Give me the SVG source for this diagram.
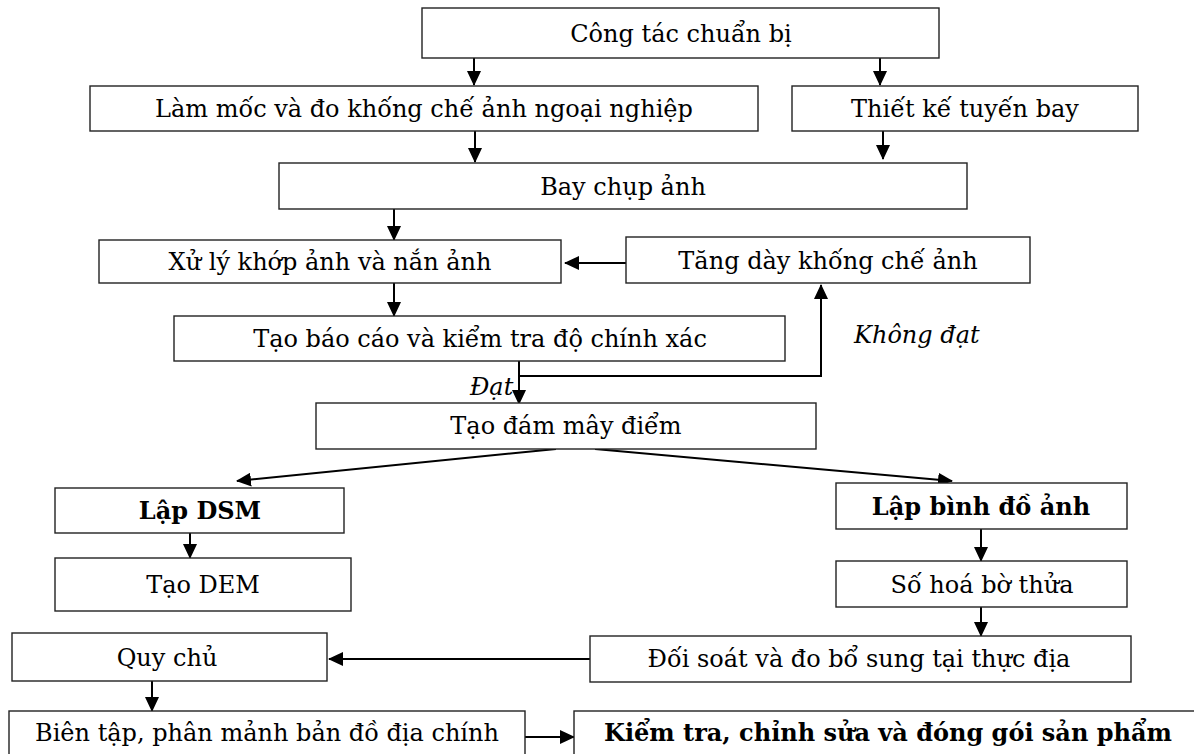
<svg xmlns="http://www.w3.org/2000/svg" width="1194" height="754" viewBox="0 0 1194 754">
<style>
.box{fill:#fff;stroke:#222;stroke-width:1.4}
.t{font-family:"DejaVu Serif","Liberation Serif",serif;font-size:24px;fill:#000;text-anchor:middle}
.b{font-weight:bold}
.i{font-style:italic;text-anchor:start}
.c{fill:none;stroke:#000;stroke-width:2}
</style>
<defs>
<marker id="ah" markerUnits="userSpaceOnUse" markerWidth="15" markerHeight="14" refX="14" refY="7" orient="auto">
<path d="M0,0 L15,7 L0,14 z" fill="#000"/>
</marker>
</defs>
<rect width="1194" height="754" fill="#fff"/>
<g id="connectors">
<line class="c" x1="474" y1="58" x2="474" y2="85" marker-end="url(#ah)"/>
<line class="c" x1="880" y1="58" x2="880" y2="85" marker-end="url(#ah)"/>
<line class="c" x1="475" y1="131" x2="475" y2="162" marker-end="url(#ah)"/>
<line class="c" x1="883" y1="131" x2="883" y2="159" marker-end="url(#ah)"/>
<line class="c" x1="394" y1="209" x2="394" y2="240" marker-end="url(#ah)"/>
<line class="c" x1="626" y1="263" x2="565" y2="263" marker-end="url(#ah)"/>
<line class="c" x1="394" y1="283" x2="394" y2="316" marker-end="url(#ah)"/>
<line class="c" x1="519" y1="361" x2="519" y2="404" marker-end="url(#ah)"/>
<polyline class="c" points="519,376 821,376 821,285" marker-end="url(#ah)"/>
<line class="c" x1="556" y1="449" x2="237" y2="481" marker-end="url(#ah)"/>
<line class="c" x1="595" y1="449" x2="952" y2="481" marker-end="url(#ah)"/>
<line class="c" x1="190" y1="533" x2="190" y2="558" marker-end="url(#ah)"/>
<line class="c" x1="981" y1="529" x2="981" y2="561" marker-end="url(#ah)"/>
<line class="c" x1="981" y1="607" x2="981" y2="636" marker-end="url(#ah)"/>
<line class="c" x1="590" y1="659" x2="329" y2="659" marker-end="url(#ah)"/>
<line class="c" x1="152" y1="681" x2="152" y2="711" marker-end="url(#ah)"/>
<line class="c" x1="525" y1="737" x2="574" y2="737" marker-end="url(#ah)"/>
</g>
<g id="cong-tac"><rect class="box" x="422" y="8" width="517" height="50"/><text class="t" x="681" y="42">Công tác chuẩn bị</text></g>
<g id="lam-moc"><rect class="box" x="90" y="86" width="668" height="45"/><text class="t" x="424" y="117">Làm mốc và đo khống chế ảnh ngoại nghiệp</text></g>
<g id="thiet-ke"><rect class="box" x="792" y="86" width="346" height="45"/><text class="t" x="965" y="117">Thiết kế tuyến bay</text></g>
<g id="bay-chup"><rect class="box" x="279" y="163" width="688" height="46"/><text class="t" x="623" y="195">Bay chụp ảnh</text></g>
<g id="xu-ly"><rect class="box" x="99" y="240" width="462" height="43"/><text class="t" x="330" y="270">Xử lý khớp ảnh và nắn ảnh</text></g>
<g id="tang-day"><rect class="box" x="626" y="237" width="404" height="46"/><text class="t" x="828" y="269">Tăng dày khống chế ảnh</text></g>
<g id="tao-bao-cao"><rect class="box" x="174" y="316" width="611" height="45"/><text class="t" x="480" y="347">Tạo báo cáo và kiểm tra độ chính xác</text></g>
<g id="label-khong-dat"><text class="t i" x="854" y="343">Không đạt</text></g>
<g id="label-dat"><text class="t i" x="470" y="395">Đạt</text></g>
<g id="tao-dam-may"><rect class="box" x="316" y="403" width="500" height="46"/><text class="t" x="566" y="434">Tạo đám mây điểm</text></g>
<g id="lap-dsm"><rect class="box" x="55" y="488" width="289" height="45"/><text class="t b" x="200" y="519">Lập DSM</text></g>
<g id="lap-binh-do"><rect class="box" x="836" y="483" width="291" height="46"/><text class="t b" x="981" y="515">Lập bình đồ ảnh</text></g>
<g id="tao-dem"><rect class="box" x="55" y="558" width="296" height="53"/><text class="t" x="203" y="593">Tạo DEM</text></g>
<g id="so-hoa"><rect class="box" x="836" y="561" width="291" height="46"/><text class="t" x="982" y="593">Số hoá bờ thửa</text></g>
<g id="quy-chu"><rect class="box" x="12" y="633" width="315" height="48"/><text class="t" x="167" y="666">Quy chủ</text></g>
<g id="doi-soat"><rect class="box" x="590" y="636" width="541" height="46"/><text class="t" x="859" y="667">Đối soát và đo bổ sung tại thực địa</text></g>
<g id="bien-tap"><rect class="box" x="9" y="711" width="516" height="50"/><text class="t" x="267" y="741">Biên tập, phân mảnh bản đồ địa chính</text></g>
<g id="kiem-tra"><rect class="box" x="574" y="711" width="630" height="50"/><text class="t b" x="888" y="741">Kiểm tra, chỉnh sửa và đóng gói sản phẩm</text></g>
</svg>
